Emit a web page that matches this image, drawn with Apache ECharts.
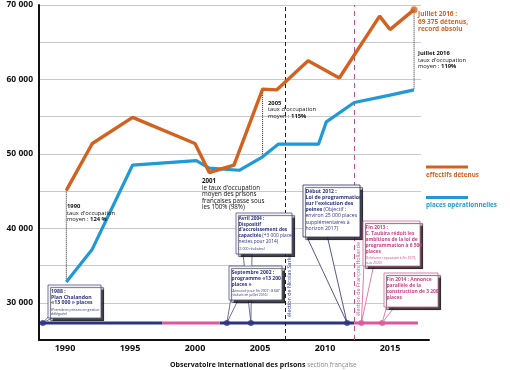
<!DOCTYPE html>
<html><head><meta charset="utf-8">
<script src="https://cdn.jsdelivr.net/npm/echarts@6/dist/echarts.min.js"></script>
<style>html,body{margin:0;padding:0;background:#fff}#c{width:510px;height:370px}</style>
</head><body><div id="c"></div>
<script>
// ---- data ----
const detenusYears  = [1990.1, 1992.1, 1995.2, 2000.0, 2001.1, 2003.0, 2005.2, 2006.3, 2008.7, 2011.1, 2014.2, 2015.0, 2016.85];
const detenusValues = [45100, 51400, 54900, 51400, 47500, 48500, 58700, 58600, 62500, 60200, 68500, 66700, 69375];
const placesYears   = [1990.1, 1992.1, 1995.2, 2000.1, 2001.1, 2003.4, 2005.2, 2006.4, 2009.5, 2010.1, 2012.25, 2015.0, 2016.85];
const placesValues  = [32800, 37200, 48500, 49100, 48100, 47800, 49600, 51300, 51300, 54300, 56900, 57900, 58600];
const occupancyIdx  = [0, 6, 12];           // dotted connectors (1990, 2005, juillet 2016)
const xTickLabels   = [1990, 1995, 2000, 2005, 2010, 2015];
const yTickLabels   = [30000, 40000, 50000, 60000, 70000];
const timelineValue = 27300;
const navySegments  = [[1988.1, 1997.5], [2001.9, 2012.25]];
const pinkSegments  = [[1997.5, 2001.9], [2012.25, 2017.15]];
const navyDots      = [1988.3, 2002.45, 2004.3, 2011.7];
const pinkDots      = [2012.8, 2014.4];
const sarkozyYear   = 2006.92;
const hollandeYear  = 2012.25;

const ORANGE = '#d3611f', BLUE = '#1f9ad6', NAVY = '#2d3383', PINK = '#e0559b', PINKT = '#cf3f85';
const FONT = '"Open Sans", "Noto Sans", "Liberation Sans", sans-serif';

const chart = echarts.init(document.getElementById('c'), null, {renderer: 'canvas'});

const series = [];
navySegments.forEach(s => series.push({type:'line', data:[[s[0],timelineValue],[s[1],timelineValue]], symbol:'none', lineStyle:{color:NAVY,width:3}, z:3, silent:true}));
pinkSegments.forEach(s => series.push({type:'line', data:[[s[0],timelineValue],[s[1],timelineValue]], symbol:'none', lineStyle:{color:PINK,width:3}, z:3, silent:true}));
series.push({type:'scatter', data:navyDots.map(y=>[y,timelineValue]), symbolSize:6, itemStyle:{color:NAVY}, z:30});
series.push({type:'scatter', data:pinkDots.map(y=>[y,timelineValue]), symbolSize:6, itemStyle:{color:PINK}, z:30});
occupancyIdx.forEach(i => series.push({type:'line', data:[[detenusYears[i],detenusValues[i]],[placesYears[i],placesValues[i]]], symbol:'none', lineStyle:{color:'#222',width:1,type:'dotted'}, z:2, silent:true}));
series.push({type:'line', data:[], markLine:{silent:true, symbol:'none', label:{show:false},
  data:[{xAxis:sarkozyYear, lineStyle:{color:'#1d1d3a', width:1, type:[4,3]}},
        {xAxis:hollandeYear, lineStyle:{color:'#c5508f', width:1, type:[5,4]}}]}});
series.push({type:'line', name:'places opérationnelles', data:placesYears.map((y,i)=>[y,placesValues[i]]), symbol:'none', lineStyle:{color:BLUE,width:3.2}, z:5});
series.push({type:'line', name:'effectifs détenus', data:detenusYears.map((y,i)=>[y,detenusValues[i]]), symbol:'none', lineStyle:{color:ORANGE,width:3.4}, z:6});
series.push({type:'scatter', data:[[detenusYears[detenusYears.length-1], detenusValues[detenusValues.length-1]]], symbolSize:7, itemStyle:{color:ORANGE}, z:7});

chart.setOption({
  animation:false,
  grid:{left:39, right:81, top:5, bottom:30},
  xAxis:{type:'value', min:1988, max:2018, interval:1,
    axisLine:{lineStyle:{color:'#111', width:2}}, axisTick:{show:false}, splitLine:{show:false},
    axisLabel:{margin:4, color:'#111', fontFamily:FONT, fontWeight:'bold', fontSize:9,
      formatter:v => xTickLabels.includes(v) ? String(v) : ''}},
  yAxis:{type:'value', min:25000, max:70000, interval:5000,
    axisLine:{show:true, lineStyle:{color:'#111', width:2}}, axisTick:{show:false},
    splitLine:{lineStyle:{color:'#c9c9c9', width:1}},
    axisLabel:{margin:6, color:'#111', fontFamily:FONT, fontWeight:'bold', fontSize:8.5,
      formatter:v => yTickLabels.includes(v) ? (v/1000) + ' 000' : ''}},
  series
});

const px = (x, y) => chart.convertToPixel({gridIndex:0}, [x, y]);

function txt(x, y, text, o) {
  const rich = {};
  const base = {fontFamily:FONT, fontSize:o.size, lineHeight:o.lh, fill:o.fill, color:o.fill};
  rich.b = Object.assign({}, base, {fontWeight:'bold'});
  rich.n = Object.assign({}, base, {fontWeight:'normal'});
  return {type:'text', x, y, z:o.z||40, rotation:o.rot||0, silent:true,
    style:{text, fill:o.fill, fontFamily:FONT, fontSize:o.size, fontWeight:o.weight||'normal', lineHeight:o.lh,
      align:o.align||'left', verticalAlign:o.va||'top', textAlign:o.align||'left', textVerticalAlign:o.va||'top', rich}};
}
function box(x, y, w, h, stroke, z) {
  return {type:'rect', z, silent:true, shape:{x, y, width:w, height:h},
    style:{fill:'#fff', stroke, lineWidth:0.8, shadowBlur:1, shadowOffsetX:2.5, shadowOffsetY:2.5, shadowColor:'rgba(25,25,25,0.8)'}};
}
function pointer(pts, stroke, z) {
  return {type:'polygon', z, silent:true, shape:{points:pts}, style:{fill:'#fff', stroke, lineWidth:0.8}};
}

const g = [];
// gridlines stop short of the legend column
g.push({type:'rect', z:1, silent:true, shape:{x:421, y:0, width:12, height:337}, style:{fill:'#fff'}});

const d0 = px(navyDots[0], timelineValue), d1 = px(navyDots[1], timelineValue), d2 = px(navyDots[2], timelineValue), d3 = px(navyDots[3], timelineValue);
const p0 = px(pinkDots[0], timelineValue), p1 = px(pinkDots[1], timelineValue);
const BOXN = '#4a4f86';

// 1988 Chalandon
g.push(pointer([[49,316],[56,316],d0], BOXN, 20));
g.push(box(48, 285, 53, 33, BOXN, 21));
g.push(txt(51, 288.5, '1988 :\nPlan Chalandon\n«13 000 » places', {size:5.2, lh:5.7, fill:NAVY, weight:'bold', z:22}));
g.push(txt(51, 307.5, '(Premières prisons en gestion\ndéléguée)', {size:3.5, lh:4.6, fill:NAVY, z:22}));

// Avril 2004
g.push(pointer([[243,254],[252,254],d2], BOXN, 23));
g.push(box(236, 213, 56, 41, BOXN, 24));
g.push(txt(238.5, 215.5, '{b|Avril 2004 :}\n{b|Dispositif}\n{b|d\'accroissement des}\n{b|capacités} {n|(+3 000 places}\n{n|nettes pour 2014)}', {size:4.8, lh:5.8, fill:NAVY, z:25}));
g.push(txt(238.5, 246.5, '(2 000 réalisées)', {size:3.5, lh:4.5, fill:NAVY, z:25}));

// Septembre 2002
g.push(pointer([[231,298],[239,298],d1], BOXN, 26));
g.push(box(229, 266, 53, 34, BOXN, 27));
g.push(txt(231.5, 269.5, 'Septembre 2002 :\nprogramme «13 200\nplaces »', {size:5, lh:6, fill:NAVY, weight:'bold', z:28}));
g.push(txt(231.5, 288.5, '(Annoncé pour fin 2007 : 8 687\nréalisés en juillet 2016)', {size:3.4, lh:4.4, fill:NAVY, z:28}));

// Début 2012
g.push(pointer([[306,235],[327,235],d3], '#2a2f60', 29));
g.push(box(303, 185, 57, 52, '#2a2f60', 30));
g.push(txt(305.5, 188, '{b|Début 2012 :}\n{b|Loi de programmation}\n{b|sur l\'exécution des}\n{b|peines} {n|(Objectif :}\n{n|environ 25 000 places}\n{n|supplémentaires à}\n{n|horizon 2017)}', {size:5.1, lh:6.2, fill:NAVY, z:31}));

// Fin 2013
g.push(pointer([[364,264],[374,264],p0], '#d0609a', 32));
g.push(box(363, 221, 57, 45, '#d0609a', 33));
g.push(txt(365.5, 224.3, 'Fin 2013 :\nC. Taubira réduit les\nambitions de la loi de\nprogrammation à 6 500\nplaces', {size:4.9, lh:6, fill:PINKT, weight:'bold', z:34}));
g.push(txt(365.5, 256, '(Echéance repoussée à fin 2019,\npuis 2020)', {size:3.4, lh:4.4, fill:PINKT, z:34}));

// Fin 2014
g.push(pointer([[387,305],[396,305],p1], '#d0609a', 35));
g.push(box(384, 273, 54, 34, '#d0609a', 36));
g.push(txt(386.5, 276.3, 'Fin 2014 : Annonce\nparallèle de la\nconstruction de 3 200\nplaces', {size:4.9, lh:6, fill:PINKT, weight:'bold', z:37}));

// election labels
const sx = px(sarkozyYear, timelineValue), hx = px(hollandeYear, timelineValue);
g.push(txt(sx[0] + 4.5, 317, 'élection de Nicolas Sarkozy', {size:5.4, lh:6, fill:NAVY, rot:Math.PI/2, va:'middle', z:15}));
g.push(txt(hx[0] + 4, 316, 'élection de François Hollande', {size:5.4, lh:6, fill:'#c5508f', rot:Math.PI/2, va:'middle', z:15}));

// occupancy annotations
g.push(txt(67, 203, '{b|1990}\n{n|taux d\'occupation}\n{n|moyen : }{b|124 %}', {size:5.8, lh:6.7, fill:'#111'}));
g.push(txt(202, 178.5, '{b|2001}\n{n|le taux d\'occupation}\n{n|moyen des prisons}\n{n|françaises passe sous}\n{n|les 100% (98%)}', {size:6.2, lh:6.4, fill:'#111'}));
g.push(txt(268, 99.5, '{b|2005}\n{n|taux d\'occupation}\n{n|moyen : }{b|115%}', {size:5.8, lh:6.8, fill:'#111'}));
g.push(txt(418, 10.5, 'Juillet 2016 :\n69 375 détenus,\nrecord absolu', {size:6.5, lh:7.6, fill:ORANGE, weight:'bold'}));
g.push(txt(418, 50, '{b|Juillet 2016}\n{n|taux d\'occupation}\n{n|moyen : }{b|119%}', {size:5.8, lh:6.6, fill:'#111'}));

// legend
g.push({type:'rect', z:40, shape:{x:426, y:165.5, width:42, height:3}, style:{fill:ORANGE}});
g.push(txt(426, 175.7, 'effectifs détenus', {size:6.3, lh:7, fill:ORANGE, weight:'bold', va:'middle'}));
g.push({type:'rect', z:40, shape:{x:426, y:196, width:42, height:3}, style:{fill:BLUE}});
g.push(txt(426, 205, 'places opérationnelles', {size:6.3, lh:7, fill:BLUE, weight:'bold', va:'middle'}));

// source line
const src = txt(170, 365, '{b|Observatoire international des prisons} {l|section française}', {size:7, lh:9, fill:'#111', va:'middle'});
src.style.rich.l = {fontFamily:FONT, fontSize:6.3, lineHeight:9, fill:'#8a8a8a', color:'#8a8a8a', fontWeight:'normal'};
g.push(src);

chart.setOption({graphic: g});
</script>
</body></html>
